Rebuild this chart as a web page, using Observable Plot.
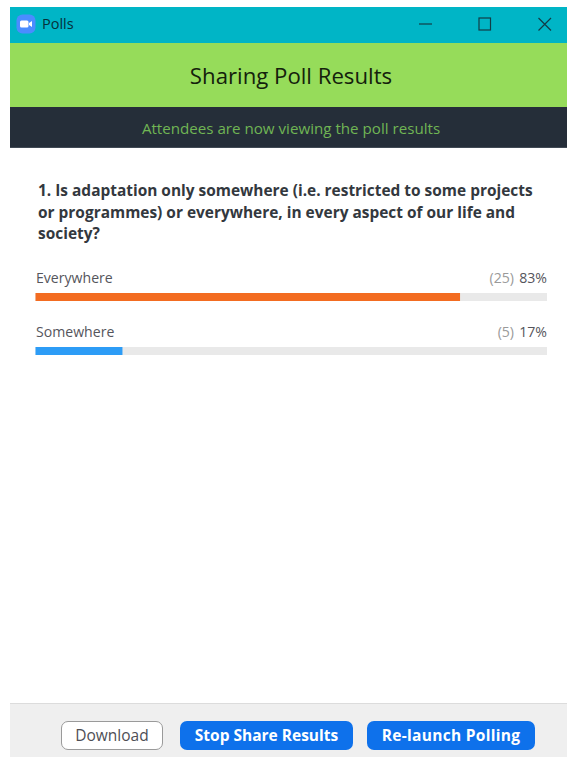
<!DOCTYPE html>
<html>
<head>
<meta charset="utf-8">
<script src="https://cdn.jsdelivr.net/npm/d3@7"></script>
<script src="https://cdn.jsdelivr.net/npm/@observablehq/plot@0.6"></script>
<style>
  html, body { margin: 0; padding: 0; background: #fff; }
  #win { position: relative; width: 567px; height: 758px; overflow: hidden; font-family: "Open Sans", "Noto Sans", sans-serif; }
  #win > div, #win > svg { position: absolute; box-sizing: border-box; }
  .band { left: 10px; width: 557px; }
  .centered { display: flex; align-items: center; justify-content: center; }
  .btn { top: 721px; height: 29px; border-radius: 7px; display: flex; align-items: center; justify-content: center; font-size: 15.5px; padding-bottom: 2px; }
  .primary { background: #0e71eb; color: #fff; font-weight: 700; }
</style>
</head>
<body>
<div id="win">
  <div class="band" style="top:7px;height:36px;background:#00b5c6"></div>
  <svg style="left:16px;top:14px" width="20" height="20" viewBox="0 0 20 20">
    <rect width="19" height="19" x="0.5" y="0.5" rx="6" fill="#4a8cff"/>
    <rect x="4" y="6.5" width="8.5" height="7" rx="1.5" fill="#fff"/>
    <path d="M13 9 L16 7 V13 L13 11 Z" fill="#fff"/>
  </svg>
  <div style="left:42px;top:14px;font-size:14.5px;line-height:20px;color:#06313a">Polls</div>
  <svg style="left:410px;top:10px" width="150" height="30" viewBox="0 0 150 30" fill="none" stroke="#123c46" stroke-width="1.2">
    <path d="M9 14 H22"/>
    <rect x="69" y="8" width="11.5" height="12"/>
    <path d="M128.5 8 L141 20.5 M141 8 L128.5 20.5"/>
  </svg>
  <div class="band centered" style="top:43px;height:64px;background:#96dc5a;color:#14210c;font-size:22.2px;padding-left:5px">Sharing Poll Results</div>
  <div class="band centered" style="top:107px;height:41px;background:#252e39;border-bottom:1px solid #414a55;color:#70b554;font-size:15.15px;padding-left:5px;padding-top:1px">Attendees are now viewing the poll results</div>
  <div style="left:38px;top:180px;width:515px;font-size:15.45px;line-height:21.7px;font-weight:700;color:#33383e">1. Is adaptation only somewhere (i.e. restricted to some projects<br>or programmes) or everywhere, in every aspect of our life and<br>society?</div>
  <div id="chart" style="left:0;top:255px;width:567px"></div>
  <div class="band" style="top:703px;height:54px;background:#efefef;border-top:1px solid #dcdcdc"></div>
  <div class="btn" style="left:61px;width:102px;background:#fff;border:1px solid #9a9a9a;color:#4e4e55;font-weight:400">Download</div>
  <div class="btn primary" style="left:180px;width:173px">Stop Share Results</div>
  <div class="btn primary" style="left:367px;width:168px;letter-spacing:0.3px">Re-launch Polling</div>
</div>
<script>
// Poll answers and their tallies
const answers = ["Everywhere", "Somewhere"];
const counts = [25, 5];
const percents = [83, 17];
const barColors = ["#f36c21", "#2d9cf6"];

const rows = answers.map((answer, i) => ({
  answer,
  count: counts[i],
  percent: percents[i],
  color: barColors[i]
}));

const chart = Plot.plot({
  width: 567,
  height: 108,
  marginTop: 0,
  marginBottom: 0,
  marginLeft: 35.5,
  marginRight: 20,
  x: {domain: [0, 100], axis: null},
  y: {domain: answers, axis: null, padding: 0},
  style: {fontFamily: '"Open Sans", "Noto Sans", sans-serif', background: "transparent"},
  marks: [
    // Grey track behind each result
    Plot.barX(rows, {x1: 0, x2: 100, y: "answer", fill: "#e9e9e9", insetTop: 38, insetBottom: 8}),
    // Share of votes
    Plot.barX(rows, {x1: 0, x2: "percent", y: "answer", fill: "color", insetTop: 38, insetBottom: 8}),
    // Answer name on the left, tally and percentage on the right
    Plot.text(rows, {x: 0, y: "answer", text: "answer", textAnchor: "start", dy: -4, fontSize: 14.1, fill: "#55555c"}),
    Plot.text(rows, {x: 100, y: "answer", text: d => `${d.percent}%`, textAnchor: "end", dx: -0.5, dy: -4, fontSize: 14.1, fill: "#55555c"}),
    Plot.text(rows, {x: 100, y: "answer", text: d => `(${d.count})`, textAnchor: "end", dx: -33.5, dy: -4, fontSize: 14.1, fill: "#9a9a9a"})
  ]
});
document.getElementById("chart").appendChild(chart);
</script>
</body>
</html>
